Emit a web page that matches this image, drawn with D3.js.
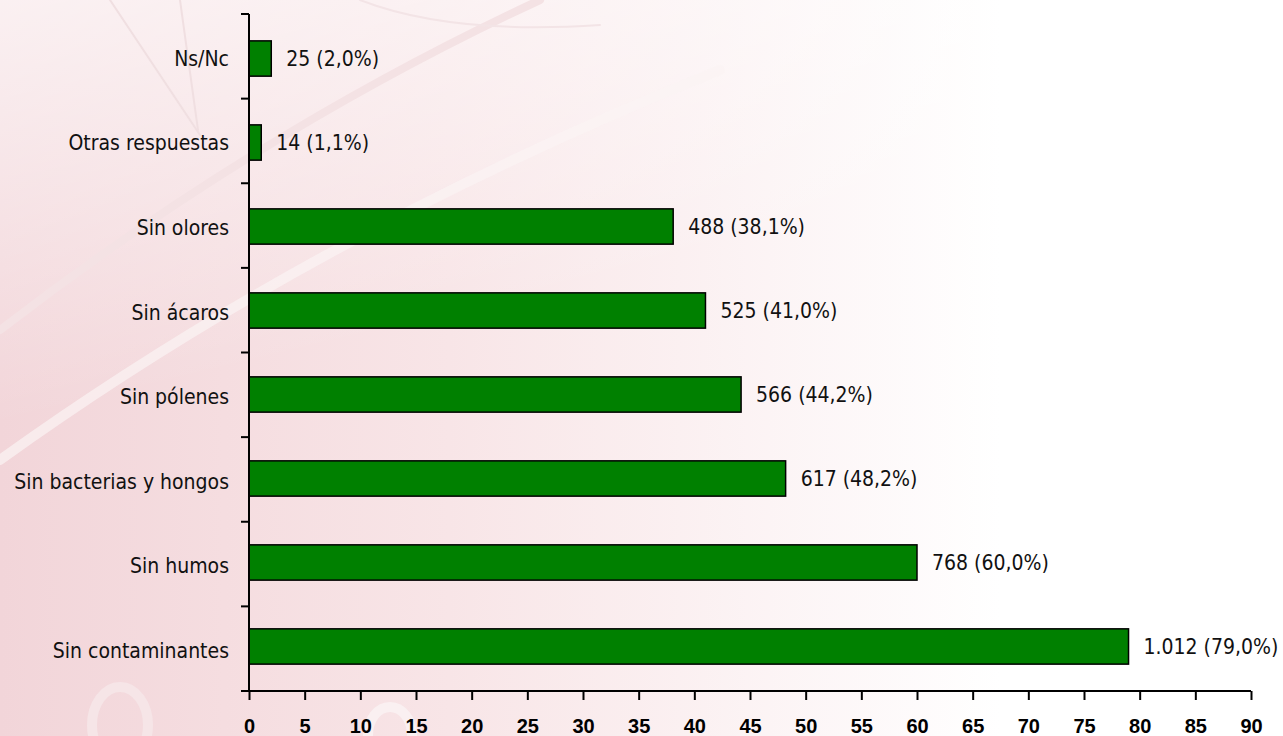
<!DOCTYPE html>
<html>
<head>
<meta charset="utf-8">
<script src="https://cdn.jsdelivr.net/npm/d3@7"></script>
<style>
  body { margin: 0; background: #fff; }
  #d3-container { width: 1283px; height: 736px; }
</style>
</head>
<body>
<div id="d3-container"></div>
<script>
// Categories top to bottom, as in the picture
const categories = ['Ns/Nc', 'Otras respuestas', 'Sin olores', 'Sin ácaros', 'Sin pólenes',
  'Sin bacterias y hongos', 'Sin humos', 'Sin contaminantes'];
const percents = [2.0, 1.1, 38.1, 41.0, 44.2, 48.2, 60.0, 79.0];
const counts = ['25', '14', '488', '525', '566', '617', '768', '1.012'];
const xTicks = [0, 5, 10, 15, 20, 25, 30, 35, 40, 45, 50, 55, 60, 65, 70, 75, 80, 85, 90];

function drawChart() {
    const width = 1283;
    const height = 736;
    const margin = { top: 14, bottom: 45, left: 249, right: 32 };
    const labelFont = '"DejaVu Sans Condensed", "DejaVu Sans", sans-serif';

    const svg = d3.select('#d3-container')
        .append('svg')
        .attr('width', width)
        .attr('height', height);

    // pink background fading to white
    const defs = svg.append('defs');
    const grad = defs.append('linearGradient').attr('id', 'bg')
        .attr('x1', '0').attr('y1', '0').attr('x2', '1').attr('y2', '0');
    grad.append('stop').attr('offset', '0%').attr('stop-color', '#f2d5d9');
    grad.append('stop').attr('offset', '35%').attr('stop-color', '#f8e5e7');
    grad.append('stop').attr('offset', '78%').attr('stop-color', '#ffffff');
    const grad2 = defs.append('linearGradient').attr('id', 'bgTop')
        .attr('x1', '0').attr('y1', '0').attr('x2', '0.4').attr('y2', '1');
    grad2.append('stop').attr('offset', '0%').attr('stop-color', '#ffffff').attr('stop-opacity', 0.65);
    grad2.append('stop').attr('offset', '50%').attr('stop-color', '#ffffff').attr('stop-opacity', 0);

    svg.append('rect').attr('width', width).attr('height', height).attr('fill', 'url(#bg)');
    svg.append('rect').attr('width', width).attr('height', height).attr('fill', 'url(#bgTop)');

    // faint watermark strokes
    const wm = svg.append('g').attr('fill', 'none').attr('stroke-linecap', 'round');
    wm.append('path').attr('d', 'M0,330 Q260,130 540,0').attr('stroke', '#f4e2e4').attr('stroke-width', 8);
    wm.append('path').attr('d', 'M0,460 Q320,230 720,70').attr('stroke', '#fbf3f4').attr('stroke-width', 10).attr('opacity', 0.7);
    wm.append('path').attr('d', 'M110,0 L200,135').attr('stroke', '#f0dfe1').attr('stroke-width', 2);
    wm.append('path').attr('d', 'M180,0 L198,130').attr('stroke', '#f0dfe1').attr('stroke-width', 2);
    wm.append('path').attr('d', 'M360,0 Q450,35 600,25').attr('stroke', '#f3e4e6').attr('stroke-width', 2);
    wm.append('ellipse').attr('cx', 120).attr('cy', 725).attr('rx', 28).attr('ry', 38).attr('stroke', '#f6e5e7').attr('stroke-width', 10);
    wm.append('ellipse').attr('cx', 390).attr('cy', 735).attr('rx', 22).attr('ry', 28).attr('stroke', '#faf0f1').attr('stroke-width', 10);

    const x = d3.scaleLinear()
        .domain([0, 90])
        .range([margin.left, width - margin.right]);

    const y = d3.scaleBand()
        .domain(categories)
        .range([margin.top, height - margin.bottom])
        .paddingInner(0.58)
        .paddingOuter(0.32);

    const band = d3.scaleBand()
        .domain(categories)
        .range([margin.top, height - margin.bottom]);

    // bars
    svg.append('g')
        .selectAll('rect')
        .data(categories)
        .join('rect')
        .attr('x', x(0))
        .attr('y', d => y(d))
        .attr('width', (d, i) => x(percents[i]) - x(0))
        .attr('height', y.bandwidth())
        .attr('fill', '#008000')
        .attr('stroke', '#000')
        .attr('stroke-width', 1.5);

    // value labels
    svg.append('g')
        .selectAll('text')
        .data(categories)
        .join('text')
        .attr('x', (d, i) => x(percents[i]) + 15)
        .attr('y', d => y(d) + y.bandwidth() / 2)
        .attr('dy', '0.35em')
        .attr('font-family', labelFont)
        .attr('font-size', '21px')
        .attr('fill', '#111')
        .text((d, i) => `${counts[i]} (${percents[i].toFixed(1).replace('.', ',')}%)`);

    // y axis: ticks at band boundaries
    const yAxis = svg.append('g').attr('stroke', '#000').attr('stroke-width', 2);
    yAxis.append('line')
        .attr('x1', x(0)).attr('x2', x(0))
        .attr('y1', margin.top).attr('y2', height - margin.bottom);
    yAxis.selectAll('line.tick')
        .data(categories)
        .join('line')
        .attr('class', 'tick')
        .attr('x1', x(0) - 8).attr('x2', x(0))
        .attr('y1', d => band(d)).attr('y2', d => band(d));

    // category labels
    svg.append('g')
        .selectAll('text')
        .data(categories)
        .join('text')
        .attr('x', x(0) - 20)
        .attr('y', d => band(d) + band.bandwidth() / 2 + 2)
        .attr('dy', '0.35em')
        .attr('text-anchor', 'end')
        .attr('font-family', labelFont)
        .attr('font-size', '21px')
        .attr('fill', '#111')
        .text(d => d);

    // x axis
    const xAxis = svg.append('g')
        .attr('transform', `translate(0,${height - margin.bottom})`)
        .call(d3.axisBottom(x).tickValues(xTicks).tickSize(9).tickSizeOuter(0).tickPadding(19));
    xAxis.select('.domain').remove();
    xAxis.append('line')
        .attr('x1', x(0) - 8).attr('x2', x(90))
        .attr('stroke', '#000').attr('stroke-width', 2);
    xAxis.selectAll('.tick line').attr('stroke', '#000').attr('stroke-width', 2);
    xAxis.selectAll('.tick text')
        .attr('font-family', '"Liberation Sans", Arial, sans-serif')
        .attr('font-weight', 700)
        .attr('font-size', '20px')
        .attr('fill', '#000');
}

drawChart();
</script>
</body>
</html>
